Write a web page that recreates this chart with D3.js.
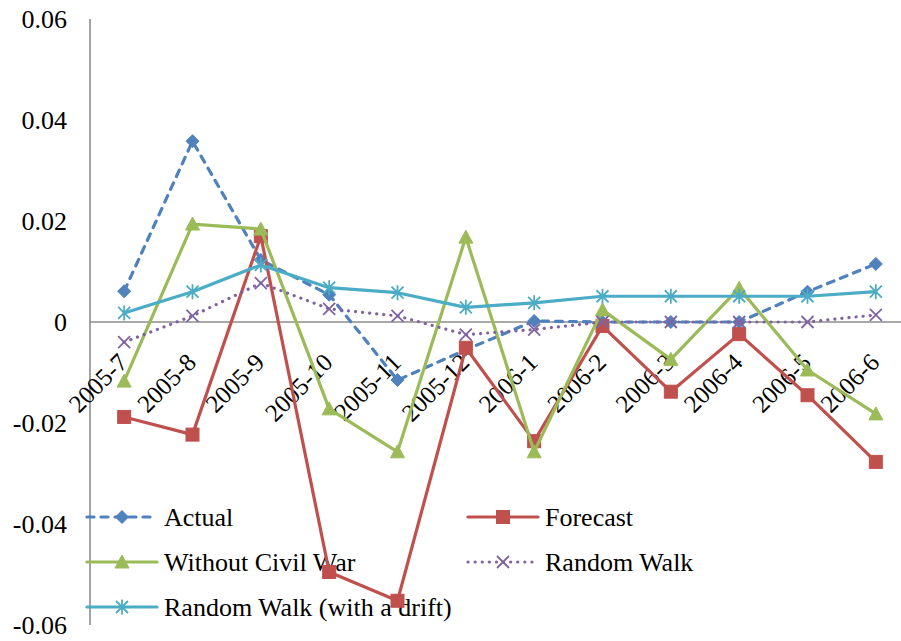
<!DOCTYPE html>
<html>
<head>
<meta charset="utf-8">
<script src="https://cdn.jsdelivr.net/npm/d3@7/dist/d3.min.js"></script>
</head>
<body style="margin:0;background:#fff">
<svg id="fig" width="901" height="641" style="display:block"></svg>
<script>
// Monthly categories on the horizontal axis
const categories = ["2005-7", "2005-8", "2005-9", "2005-10", "2005-11", "2005-12",
                    "2006-1", "2006-2", "2006-3", "2006-4", "2006-5", "2006-6"];

// Series values
const actual      = [0.0061, 0.0358, 0.0123, 0.0054, -0.0115, -0.0055, 0.0002, 0.0000, 0.0000, 0.0000, 0.0060, 0.0115];
const forecast    = [-0.0188, -0.0223, 0.0170, -0.0495, -0.0552, -0.0051, -0.0236, -0.0008, -0.0138, -0.0024, -0.0145, -0.0277];
const withoutWar  = [-0.0117, 0.0194, 0.0184, -0.0172, -0.0257, 0.0168, -0.0257, 0.0024, -0.0074, 0.0067, -0.0095, -0.0182];
const randomWalk  = [-0.0040, 0.0012, 0.0077, 0.0026, 0.0012, -0.0025, -0.0015, 0.0000, 0.0000, 0.0000, 0.0000, 0.0014];
const driftWalk   = [0.0018, 0.0060, 0.0113, 0.0068, 0.0058, 0.0029, 0.0038, 0.0051, 0.0051, 0.0051, 0.0051, 0.0060];

// Value-axis ticks
const yTicks = [0.06, 0.04, 0.02, 0, -0.02, -0.04, -0.06];
const yTickLabels = ["0.06", "0.04", "0.02", "0", "-0.02", "-0.04", "-0.06"];

const seriesNames = ["Actual", "Forecast", "Without Civil War", "Random Walk", "Random Walk (with a drift)"];
const seriesColors = ["#4F81BD", "#C0504D", "#9BBB59", "#8064A2", "#4BACC6"];

const svg = d3.select("#fig");
const SERIF = "Liberation Serif";

const x = d3.scaleBand().domain(categories).range([90, 910]);
const cx = c => x(c) + x.bandwidth() / 2;
const y = d3.scaleLinear().domain([-0.06, 0.06]).range([625, 19]);

// Marker shapes (drawn centred on 0,0)
const markers = {
  diamond: g => g.append("path").attr("d", "M0,-6.5L6.5,0L0,6.5L-6.5,0Z"),
  square: g => g.append("rect").attr("x", -6.5).attr("y", -6.5).attr("width", 13).attr("height", 13),
  triangle: g => g.append("path").attr("d", "M0,-7L7,6L-7,6Z"),
  cross: g => g.append("path").attr("d", "M-6,-6L6,6M-6,6L6,-6"),
  star: g => g.append("path").attr("d", "M-6,-6L6,6M-6,6L6,-6M0,-7.5L0,7.5")
};

const series = [
  { name: seriesNames[0], values: actual,     color: seriesColors[0], dash: "7,7", marker: "diamond", fill: true },
  { name: seriesNames[1], values: forecast,   color: seriesColors[1], dash: null,  marker: "square",  fill: true },
  { name: seriesNames[2], values: withoutWar, color: seriesColors[2], dash: null,  marker: "triangle", fill: true },
  { name: seriesNames[3], values: randomWalk, color: seriesColors[3], dash: "0.1,7", marker: "cross", fill: false },
  { name: seriesNames[4], values: driftWalk,  color: seriesColors[4], dash: null,  marker: "star",  fill: false }
];

function drawMarker(g, s, px, py) {
  const m = g.append("g").attr("transform", `translate(${px},${py})`);
  markers[s.marker](m);
  if (s.fill) {
    m.selectAll("*").attr("fill", s.color).attr("stroke", s.color).attr("stroke-width", 1);
  } else {
    m.selectAll("*").attr("fill", "none").attr("stroke", s.color).attr("stroke-width", 1.8);
  }
}

// Axes: vertical value axis and the zero baseline
svg.append("line")
  .attr("x1", 90).attr("x2", 90).attr("y1", y(0.06)).attr("y2", y(-0.06))
  .attr("stroke", "#8c8c8c").attr("stroke-width", 1.6);
svg.append("line")
  .attr("x1", 90).attr("x2", 901).attr("y1", y(0)).attr("y2", y(0))
  .attr("stroke", "#8c8c8c").attr("stroke-width", 1.6);

// Value tick labels
yTicks.forEach((d, i) => {
  svg.append("text")
    .attr("x", 67)
    .attr("y", y(d) + 9)
    .attr("text-anchor", "end")
    .attr("font-size", 26)
    .attr("font-family", SERIF)
    .text(yTickLabels[i]);
});

// Category labels, rotated
categories.forEach(c => {
  svg.append("text")
    .attr("text-anchor", "end")
    .attr("font-size", 25)
    .attr("font-family", SERIF)
    .attr("transform", `translate(${cx(c) + 5},364) rotate(-45)`)
    .text(c);
});

// Legend
const legendItems = [
  { s: series[0], lx: 87,  ly: 517 },
  { s: series[1], lx: 468, ly: 517 },
  { s: series[2], lx: 87,  ly: 562 },
  { s: series[3], lx: 468, ly: 562 },
  { s: series[4], lx: 87,  ly: 607 }
];
legendItems.forEach(({ s, lx, ly }) => {
  svg.append("line")
    .attr("x1", lx).attr("x2", lx + 70).attr("y1", ly).attr("y2", ly)
    .attr("stroke", s.color).attr("stroke-width", 3.2)
    .attr("stroke-linecap", "round")
    .attr("stroke-dasharray", s.dash);
  drawMarker(svg, s, lx + 35, ly);
  svg.append("text")
    .attr("x", lx + 77).attr("y", ly + 9)
    .attr("font-size", 26)
    .attr("font-family", SERIF)
    .text(s.name);
});

// Series lines and markers
const line = d3.line().x((d, i) => cx(categories[i])).y(d => y(d));
series.forEach(s => {
  const g = svg.append("g");
  g.append("path")
    .attr("d", line(s.values))
    .attr("fill", "none")
    .attr("stroke", s.color)
    .attr("stroke-width", 3.2)
    .attr("stroke-linejoin", "round")
    .attr("stroke-linecap", "round")
    .attr("stroke-dasharray", s.dash);
  s.values.forEach((v, i) => drawMarker(g, s, cx(categories[i]), y(v)));
});
</script>
</body>
</html>
